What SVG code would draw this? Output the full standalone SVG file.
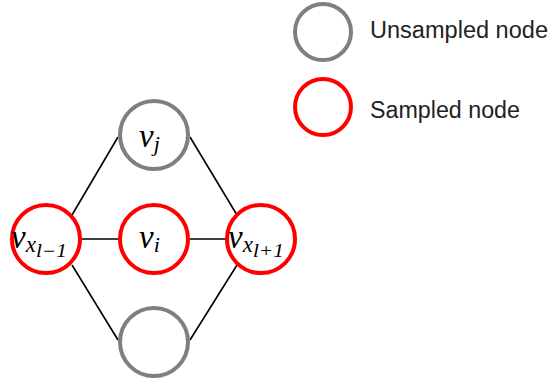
<svg xmlns="http://www.w3.org/2000/svg" width="551" height="386" viewBox="0 0 551 386">
<style>
.un{fill:#fff;stroke:#7f7f7f;stroke-width:4}
.sa{fill:#fff;stroke:#ff0000;stroke-width:4}
.edge{stroke:#000;stroke-width:1.6;fill:none}
.m{font-family:"Liberation Serif",serif;font-style:italic;font-size:33px;fill:#000}
.lg{font-family:"Liberation Sans",Arial,sans-serif;font-size:23px;fill:#222}
</style>
<rect width="551" height="386" fill="#fff"/>
<g id="connectors">
<line class="edge" x1="72" y1="215" x2="118" y2="137"/>
<line class="edge" x1="190" y1="137" x2="237" y2="215"/>
<line class="edge" x1="82" y1="239" x2="118" y2="239"/>
<line class="edge" x1="190" y1="239" x2="225" y2="239"/>
<line class="edge" x1="72" y1="265" x2="118" y2="340"/>
<line class="edge" x1="190" y1="340" x2="237" y2="265"/>
</g>
<g id="node-vj">
<circle class="un" cx="154" cy="135" r="34"/>
<text class="m" x="139" y="147">v<tspan font-size="22" dy="4">j</tspan></text>
</g>
<g id="node-vxl-1">
<circle class="sa" cx="46" cy="239" r="34"/>
<text class="m" x="11" y="248">v<tspan font-size="23" dy="4">x</tspan><tspan font-size="18" dy="5" textLength="31" lengthAdjust="spacingAndGlyphs">l−1</tspan></text>
</g>
<g id="node-vi">
<circle class="sa" cx="154" cy="239" r="34"/>
<text class="m" x="139" y="248">v<tspan font-size="22" dy="4">i</tspan></text>
</g>
<g id="node-vxl+1">
<circle class="sa" cx="261" cy="239" r="34"/>
<text class="m" x="228" y="248">v<tspan font-size="23" dy="4">x</tspan><tspan font-size="18" dy="5" textLength="31" lengthAdjust="spacingAndGlyphs">l+1</tspan></text>
</g>
<g id="node-bottom">
<circle class="un" cx="154" cy="342" r="34"/>
</g>
<g id="legend-unsampled">
<circle class="un" cx="323" cy="32" r="28"/>
<text class="lg" x="370" y="38" textLength="178" lengthAdjust="spacingAndGlyphs">Unsampled node</text>
</g>
<g id="legend-sampled">
<circle class="sa" cx="323" cy="107" r="28"/>
<text class="lg" x="370" y="118" textLength="150" lengthAdjust="spacingAndGlyphs">Sampled node</text>
</g>
</svg>
